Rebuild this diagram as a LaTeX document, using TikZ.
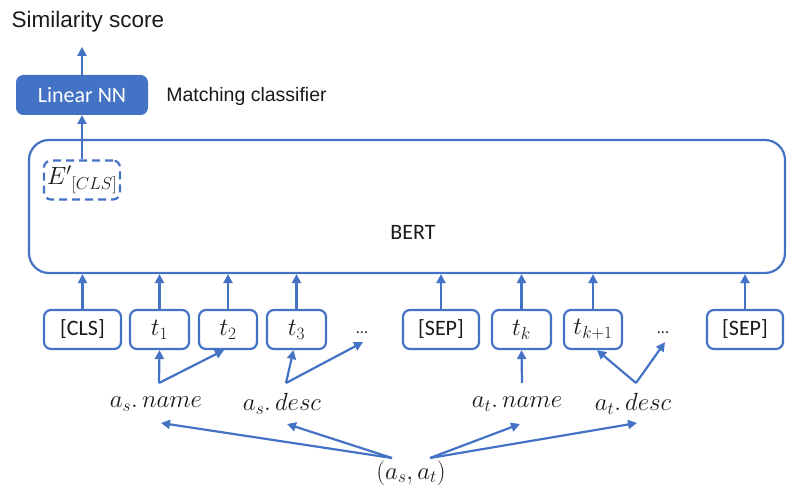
\documentclass[tikz,border=0pt]{standalone}
\usepackage[no-math]{fontspec}
\setmainfont{Carlito}
\newfontfamily\arialf{Liberation Sans}
\usetikzlibrary{arrows.meta,calc}
\definecolor{bl}{HTML}{4472C4}
\definecolor{tx}{HTML}{1A1A1A}
\begin{document}
\begin{tikzpicture}[x=1pt,y=-1pt,
  conn/.style={draw=bl,line width=2.2pt,-{Triangle[length=9pt,width=9pt]}},
  tok/.style={draw=bl,line width=2.2pt,rounded corners=7pt,fill=white,minimum height=39pt,inner sep=0pt,text=tx,font=\fontsize{22}{26}\selectfont},
  mtok/.style={tok,font=\fontsize{24}{28}\selectfont},
  lbl/.style={inner sep=0pt,text=tx,font=\fontsize{24}{28}\selectfont},
  dotsty/.style={inner sep=0pt,text=tx,font=\fontsize{16}{18}\selectfont}
]
\useasboundingbox (0,0) rectangle (787,489);

% top
\node[anchor=base,inner sep=0pt,text=tx,font=\arialf\fontsize{22.5}{26}\selectfont] (sim) at (88,28) {Similarity score};
\node[draw=bl,fill=bl,line width=1pt,rounded corners=7pt,minimum width=131pt,minimum height=39pt,inner sep=0pt,text=white,font=\fontsize{22}{26}\selectfont] (lin) at (82,95) {Linear NN};
\node[inner sep=0pt,text=tx,font=\arialf\fontsize{19.5}{23}\selectfont] (match) at (246.5,96) {Matching classifier};

% BERT
\node[draw=bl,line width=2.2pt,rounded corners=20pt,minimum width=756pt,minimum height=133pt,inner sep=0pt] (bert) at (407,206.5) {};
\node[inner sep=0pt,text=tx,font=\fontsize{22}{26}\selectfont] (berttxt) at (413,232) {BERT};
\node[draw=bl,line width=2.2pt,dashed,dash pattern=on 8pt off 5pt,rounded corners=7pt,minimum width=76pt,minimum height=39pt,inner sep=0pt,text=tx,font=\fontsize{23}{27}\selectfont] (ecls) at (82,180) {${E'}{}_{[CLS]}$};

\draw[conn] (ecls.north) -- (lin.south);
\draw[conn] (lin.north) -- ($(lin.north |- sim.south)+(0,14)$);

% tokens
\node[tok,minimum width=77pt] (cls) at (82.5,329.5) {[CLS]};
\node[mtok,minimum width=59pt] (t1) at (159.5,329.5) {$t_1$};
\node[mtok,minimum width=58pt] (t2) at (228,329.5) {$t_2$};
\node[mtok,minimum width=59pt] (t3) at (296.5,329.5) {$t_3$};
\node[dotsty] (d1) at (362,333) {...};
\node[tok,minimum width=76pt] (sep1) at (441,329.5) {[SEP]};
\node[mtok,minimum width=59pt] (tk) at (521.5,329.5) {$t_k$};
\node[mtok,minimum width=58pt] (tk1) at (593,329.5) {$t_{k+1}$};
\node[dotsty] (d2) at (663,333) {...};
\node[tok,minimum width=76pt] (sep2) at (745,329.5) {[SEP]};

\foreach \n in {cls,t1,t2,t3,sep1,tk,tk1,sep2}
  \draw[conn] (\n.north) -- (\n.north |- bert.south);

% attribute labels
\node[lbl] (asname) at (156,404) {$a_s.\,name$};
\node[lbl] (asdesc) at (282,404) {$a_s.\,desc$};
\node[lbl] (atname) at (517,404) {$a_t.\,name$};
\node[lbl] (atdesc) at (633,404) {$a_t.\,desc$};
\node[lbl] (pair) at (411,473) {$(a_s,a_t)$};

\coordinate (bsn) at (159,383);
\coordinate (bsd) at (286,383);
\coordinate (btn) at (522,383);
\coordinate (btd) at (636,383);

\draw[conn] (bsn) -- (t1.south);
\draw[conn] (bsn) -- ($(t2.south)+(-4,0)$);
\draw[conn] (bsd) -- ($(t3.south)+(-3,0)$);
\draw[conn] (bsd) -- ($(d1.south)+(1,8)$);
\draw[conn] (btn) -- (tk.south);
\draw[conn] (btd) -- ($(tk1.south)+(4,0)$);
\draw[conn] (btd) -- ($(d2.south)+(2,8)$);

\coordinate (pl) at (392,458);
\coordinate (pr) at (430,458);
\coordinate (en1) at (161,423);
\coordinate (en2) at (287,424);
\coordinate (en3) at (520,424);
\coordinate (en4) at (637,423);
\draw[conn] (pl) -- (en1);
\draw[conn] (pl) -- (en2);
\draw[conn] (pr) -- (en3);
\draw[conn] (pr) -- (en4);
\end{tikzpicture}
\end{document}
